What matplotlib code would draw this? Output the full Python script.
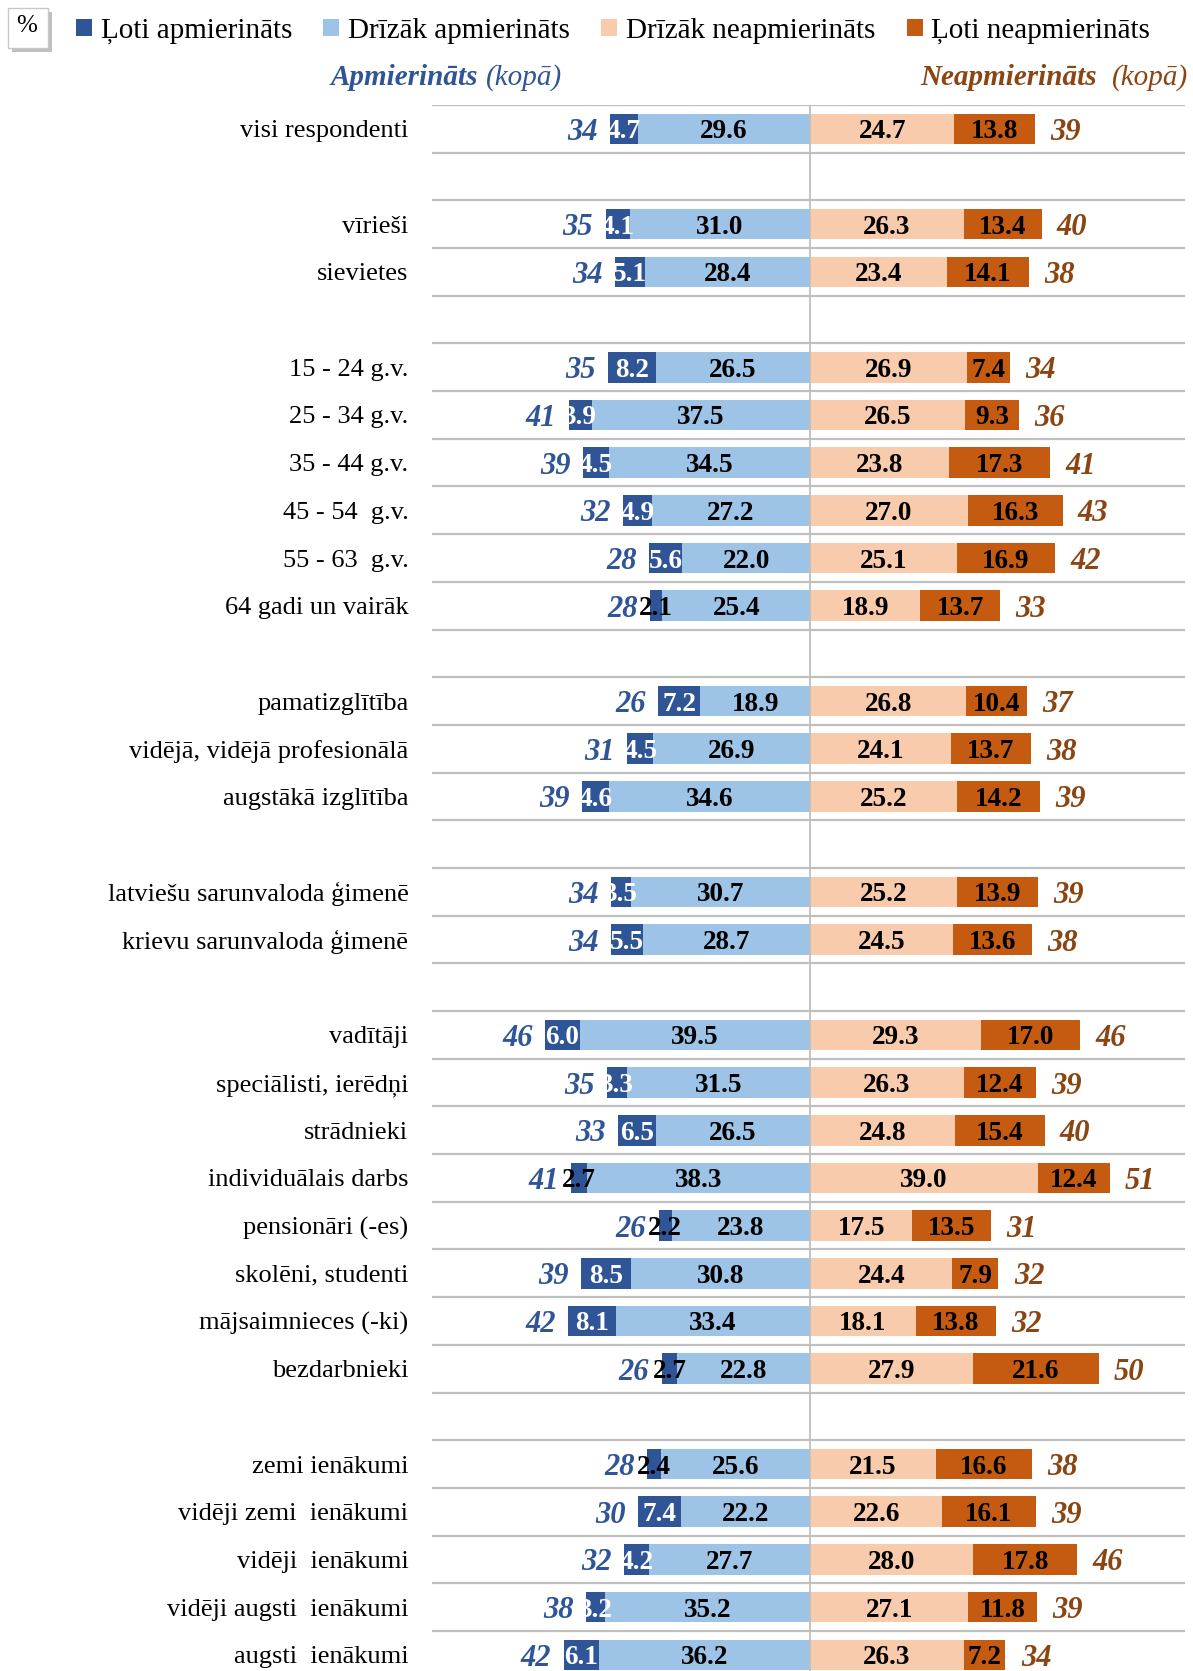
import numpy as np
import matplotlib
matplotlib.use("Agg")
import matplotlib.pyplot as plt
from matplotlib.patches import Patch, Rectangle
from matplotlib import patheffects

plt.rcParams["font.family"] = ["Liberation Serif", "DejaVu Serif"]

categories = [
    "visi respondenti",
    "vīrieši", "sievietes",
    "15 - 24 g.v.", "25 - 34 g.v.", "35 - 44 g.v.", "45 - 54  g.v.", "55 - 63  g.v.", "64 gadi un vairāk",
    "pamatizglītība", "vidējā, vidējā profesionālā", "augstākā izglītība",
    "latviešu sarunvaloda ģimenē", "krievu sarunvaloda ģimenē",
    "vadītāji", "speciālisti, ierēdņi", "strādnieki", "individuālais darbs",
    "pensionāri (-es)", "skolēni, studenti", "mājsaimnieces (-ki)", "bezdarbnieki",
    "zemi ienākumi", "vidēji zemi  ienākumi", "vidēji  ienākumi", "vidēji augsti  ienākumi", "augsti  ienākumi",
]
group_sizes = [1, 2, 6, 3, 2, 8, 5]

very_sat = [4.7, 4.1, 5.1, 8.2, 3.9, 4.5, 4.9, 5.6, 2.1, 7.2, 4.5, 4.6, 3.5, 5.5,
            6.0, 3.3, 6.5, 2.7, 2.2, 8.5, 8.1, 2.7, 2.4, 7.4, 4.2, 3.2, 6.1]
rather_sat = [29.6, 31.0, 28.4, 26.5, 37.5, 34.5, 27.2, 22.0, 25.4, 18.9, 26.9, 34.6, 30.7, 28.7,
              39.5, 31.5, 26.5, 38.3, 23.8, 30.8, 33.4, 22.8, 25.6, 22.2, 27.7, 35.2, 36.2]
rather_unsat = [24.7, 26.3, 23.4, 26.9, 26.5, 23.8, 27.0, 25.1, 18.9, 26.8, 24.1, 25.2, 25.2, 24.5,
                29.3, 26.3, 24.8, 39.0, 17.5, 24.4, 18.1, 27.9, 21.5, 22.6, 28.0, 27.1, 26.3]
very_unsat = [13.8, 13.4, 14.1, 7.4, 9.3, 17.3, 16.3, 16.9, 13.7, 10.4, 13.7, 14.2, 13.9, 13.6,
              17.0, 12.4, 15.4, 12.4, 13.5, 7.9, 13.8, 21.6, 16.6, 16.1, 17.8, 11.8, 7.2]
sat_total = [34, 35, 34, 35, 41, 39, 32, 28, 28, 26, 31, 39, 34, 34,
             46, 35, 33, 41, 26, 39, 42, 26, 28, 30, 32, 38, 42]
unsat_total = [39, 40, 38, 34, 36, 41, 43, 42, 33, 37, 38, 39, 39, 38,
               46, 39, 40, 51, 31, 32, 32, 50, 38, 39, 46, 39, 34]

legend_labels = ["Ļoti apmierināts", "Drīzāk apmierināts", "Drīzāk neapmierināts", "Ļoti neapmierināts"]

C_DARK_BLUE = "#2F5597"
C_LIGHT_BLUE = "#9DC3E6"
C_PEACH = "#F8CBAD"
C_ORANGE = "#C55A11"
C_TOT_BLUE = "#2F5597"
C_TOT_BROWN = "#8B4513"
C_GRID = "#BFBFBF"

# row positions with a blank row after each group
ypos = []
row = 0
for size in group_sizes:
    for _ in range(size):
        ypos.append(row)
        row += 1
    row += 1
ypos = np.array(ypos)
n_rows = ypos[-1] + 1

fig = plt.figure(figsize=(11.93, 16.71), dpi=100)
ax = fig.add_axes([432 / 1193, 0.0, (1185 - 432) / 1193, 1 - 105 / 1671])

vs = np.array(very_sat)
rs = np.array(rather_sat)
ru = np.array(rather_unsat)
vu = np.array(very_unsat)

h = 0.64
ax.barh(ypos, -rs, height=h, color=C_LIGHT_BLUE, zorder=2)
ax.barh(ypos, -vs, left=-rs, height=h, color=C_DARK_BLUE, zorder=2)
ax.barh(ypos, ru, height=h, color=C_PEACH, zorder=2)
ax.barh(ypos, vu, left=ru, height=h, color=C_ORANGE, zorder=2)

vfs = 19.5
lab = dict(ha="center", va="center_baseline", fontsize=vfs, fontweight="bold", zorder=4)
for i, y in enumerate(ypos):
    ax.text(-rs[i] / 2, y, f"{rs[i]:.1f}", color="black", **lab)
    dcol = "white" if vs[i] >= 3 else "black"
    ax.text(-rs[i] - vs[i] / 2, y, f"{vs[i]:.1f}", color=dcol, **lab)
    ax.text(ru[i] / 2, y, f"{ru[i]:.1f}", color="black", **lab)
    ax.text(ru[i] + vu[i] / 2, y, f"{vu[i]:.1f}", color="black", **lab)
    ax.annotate(str(sat_total[i]), xy=(-(rs[i] + vs[i]), y), xytext=(-9, 0),
                textcoords="offset points", ha="right", va="center_baseline",
                fontsize=22, fontweight="bold", fontstyle="italic", color=C_TOT_BLUE)
    ax.annotate(str(unsat_total[i]), xy=(ru[i] + vu[i], y), xytext=(11, 0),
                textcoords="offset points", ha="left", va="center_baseline",
                fontsize=22, fontweight="bold", fontstyle="italic", color=C_TOT_BROWN)

for k in range(n_rows + 1):
    ax.axhline(k - 0.5, color=C_GRID, lw=1.6, zorder=1)
ax.axvline(0, color=C_GRID, lw=1.3, zorder=3)

ax.set_xlim(-64.9, 64.3)
ax.set_ylim(n_rows - 0.66, -0.5)
ax.set_yticks(ypos)
ax.set_yticklabels(categories, fontsize=19)
ax.tick_params(axis="y", length=0, pad=17)
ax.set_xticks([])
for s in ax.spines.values():
    s.set_visible(False)

# legend
handles = [Patch(facecolor=c) for c in [C_DARK_BLUE, C_LIGHT_BLUE, C_PEACH, C_ORANGE]]
fig.legend(handles, legend_labels, loc="center left", bbox_to_anchor=(76 / 1193, 1 - 31 / 1671),
           ncol=4, frameon=False, fontsize=21, handlelength=0.55, handleheight=0.55,
           handletextpad=0.3, columnspacing=1.07, borderaxespad=0, borderpad=0)

# "%" box
box = Rectangle((8 / 1193, 1 - 48 / 1671), 40 / 1193, 40 / 1671, transform=fig.transFigure,
                facecolor="white", edgecolor="#C8C8C8", lw=1.0, zorder=5)
box.set_path_effects([patheffects.SimplePatchShadow(offset=(3, -3), alpha=0.35), patheffects.Normal()])
fig.add_artist(box)
fig.text(27 / 1193, 1 - 26 / 1671, "%", ha="center", va="center", fontsize=18, zorder=6)

# headers
hy = 1 - 85 / 1671
t1 = fig.text(562 / 1193, hy, "(kopā)", ha="right", va="baseline",
              fontsize=21, fontstyle="italic", color=C_TOT_BLUE)
t1b = fig.text(562 / 1193, hy, "Apmierināts ", ha="right", va="baseline", fontsize=21,
               fontstyle="italic", fontweight="bold", color=C_TOT_BLUE)
t2 = fig.text(1188 / 1193, hy, "(kopā)", ha="right", va="baseline",
              fontsize=21, fontstyle="italic", color=C_TOT_BROWN)
t3 = fig.text(1188 / 1193, hy, "Neapmierināts  ", ha="right", va="baseline", fontsize=21,
              fontstyle="italic", fontweight="bold", color=C_TOT_BROWN)
fig.canvas.draw()
t1b.set_x((562 - t1.get_window_extent().width) / 1193)
t3.set_x((1188 - t2.get_window_extent().width) / 1193)

fig.savefig("out.png", dpi=100)
